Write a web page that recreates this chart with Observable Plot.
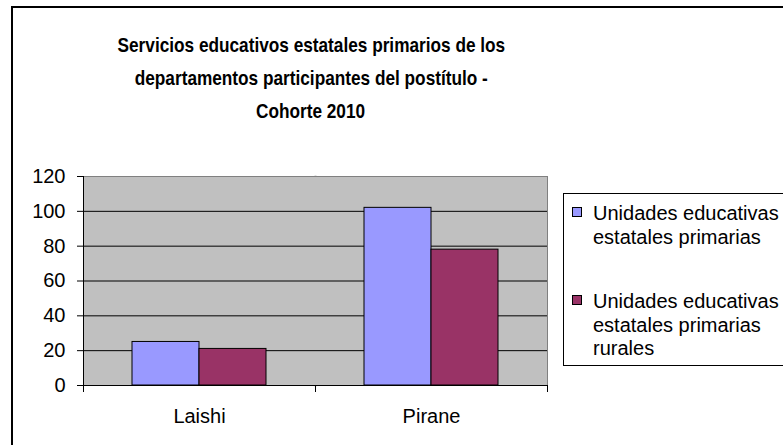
<!DOCTYPE html>
<html>
<head>
<meta charset="utf-8">
<script src="https://cdn.jsdelivr.net/npm/d3@7"></script>
<script src="https://cdn.jsdelivr.net/npm/@observablehq/plot@0.6"></script>
<style>
  html, body { margin: 0; padding: 0; background: #fff; overflow: hidden; }
  body { width: 783px; height: 445px; position: relative; font-family: "Liberation Sans", Arial, sans-serif; color: #000; }
  #border { position: absolute; left: 11px; top: 6px; width: 900px; height: 600px; border: 2px solid #000; box-sizing: border-box; }
  #title { position: absolute; left: 0; top: 28px; width: 622px; text-align: center; font-weight: bold; font-size: 21px; line-height: 33px; }
  #title span { display: inline-block; transform: scaleX(0.82); transform-origin: center; white-space: nowrap; }
  #chart { position: absolute; left: 0; top: 160px; }
  #legend { position: absolute; left: 563px; top: 193px; width: 400px; height: 173px; border: 1px solid #000; box-sizing: border-box; background: #fff; }
  .entry { position: absolute; left: 29px; width: 192px; font-size: 20px; line-height: 23.5px; }
  .sw { position: absolute; left: -21px; top: 5px; width: 10px; height: 10px; border: 1px solid #000; box-sizing: border-box; }
</style>
</head>
<body>
<div id="border"></div>
<div id="title"><span>Servicios educativos estatales primarios de los</span><br><span>departamentos participantes del postítulo -</span><br><span>Cohorte 2010</span></div>
<div id="chart"></div>
<div id="legend"></div>
<script>
const categories = ["Laishi", "Pirane"];
const seriesNames = ["Unidades educativas estatales primarias", "Unidades educativas estatales primarias rurales"];
const primarias = [25, 102];
const rurales = [21, 78];
const yTicks = [0, 20, 40, 60, 80, 100, 120];
const colors = ["#9999ff", "#993366"];

const rows = [];
categories.forEach((c, i) => {
  rows.push({category: c, series: seriesNames[0], value: primarias[i]});
  rows.push({category: c, series: seriesNames[1], value: rurales[i]});
});

const W = 783, H = 280, mt = 16, mb = 55, ml = 83, mr = 236;
const plotH = H - mt - mb;
const first = categories[0], last = categories[categories.length - 1];

const chart = Plot.plot({
  width: W, height: H,
  marginTop: mt, marginBottom: mb, marginLeft: ml, marginRight: mr,
  style: {fontFamily: "Liberation Sans, Arial, sans-serif", fontSize: "20px", color: "#000", background: "transparent"},
  fx: {domain: categories, padding: 0, label: null},
  x: {domain: seriesNames, paddingInner: 0, paddingOuter: 0.73, axis: null},
  y: {domain: [0, 120], label: null},
  color: {domain: seriesNames, range: colors},
  marks: [
    Plot.frame({fill: "#c0c0c0", stroke: "none", shapeRendering: "crispEdges"}),
    Plot.frame({anchor: "left", stroke: "#c0c0c0", strokeWidth: 2, fx: () => last}),
    Plot.ruleY(yTicks.filter(t => t > 0 && t < 120), {stroke: "#000", strokeWidth: 1}),
    Plot.ruleY([120], {stroke: "#808080", strokeWidth: 1}),
    Plot.barY(rows, {fx: "category", x: "series", y: "value", fill: "series", stroke: "#000", strokeWidth: 1}),
    Plot.ruleY([0], {stroke: "#000", strokeWidth: 1}),
    Plot.frame({anchor: "right", stroke: "#808080", fx: () => last}),
    Plot.frame({anchor: "left", stroke: "#000", insetBottom: -6, fx: () => first}),
    Plot.frame({anchor: "left", stroke: "#000", insetTop: plotH, insetBottom: -6, fx: () => last}),
    Plot.frame({anchor: "right", stroke: "#000", insetTop: plotH, insetBottom: -6, fx: () => last}),
    Plot.axisY({anchor: "left", ticks: yTicks, tickSize: 6, tickPadding: 12, fontSize: 20, stroke: "#000", fill: "#000", label: null}),
    Plot.axisFx({anchor: "bottom", tickSize: 0, tickPadding: 23, fontSize: 20, fill: "#000", label: null})
  ]
});
document.getElementById("chart").appendChild(chart);

const legend = document.getElementById("legend");
const tops = [8, 96];
seriesNames.forEach((name, i) => {
  const e = document.createElement("div");
  e.className = "entry";
  e.style.top = tops[i] + "px";
  const sw = document.createElement("div");
  sw.className = "sw";
  sw.style.background = colors[i];
  e.appendChild(sw);
  e.appendChild(document.createTextNode(name));
  legend.appendChild(e);
});
</script>
</body>
</html>
